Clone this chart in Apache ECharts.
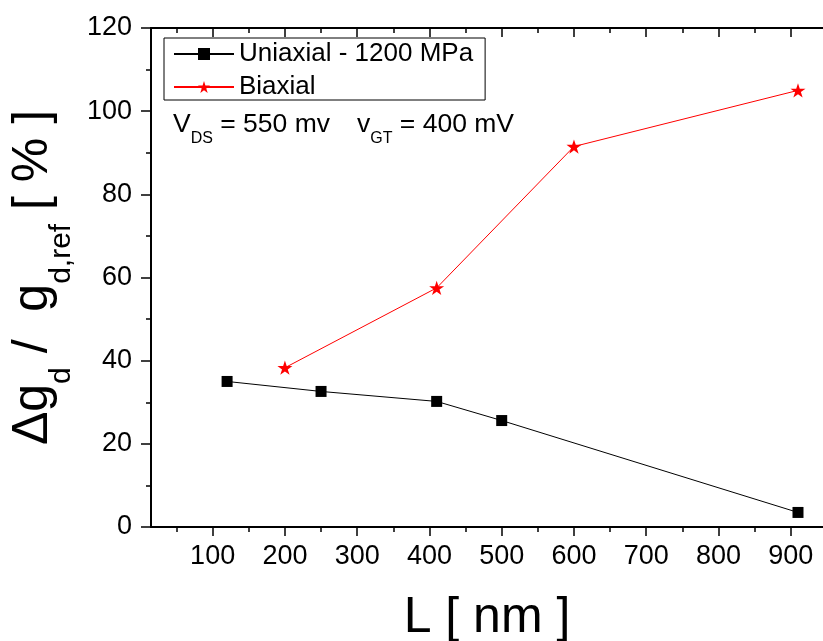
<!DOCTYPE html>
<html><head><meta charset="utf-8">
<script src="https://cdn.jsdelivr.net/npm/echarts@6/dist/echarts.min.js"></script>
<style>html,body{margin:0;padding:0;background:#fff}#c{width:823px;height:641px}</style>
</head><body><div id="c"></div>
<script>
const seriesNames = ['Uniaxial - 1200 MPa', 'Biaxial'];
const uniaxialL = [120, 250, 410, 500, 910];
const uniaxialVal = [35.0, 32.6, 30.2, 25.6, 3.5];
const biaxialL = [200, 410, 600, 910];
const biaxialVal = [38.3, 57.5, 91.5, 105.0];
const xMajorTicks = [100, 200, 300, 400, 500, 600, 700, 800, 900];
const xMinorTicks = [50, 150, 250, 350, 450, 550, 650, 750, 850];
const xRange = [14.7, 944.6];
const yRange = [0, 120];
const yInterval = 20;

const FONT = '"Liberation Sans", Arial, sans-serif';
const STAR = 'path://M100,0L122.45,69.1L195.1,69.1L136.3,111.8L158.8,180.9L100,138.2L41.2,180.9L63.7,111.8L4.9,69.1L77.55,69.1Z';
const axisCol = '#000';

function pairs(xs, ys) { return xs.map((x, i) => [x, ys[i]]); }

function xAxisDef(pos, ticks, len, inside, withLine, withLabels) {
  return {
    type: 'value', position: pos, min: xRange[0], max: xRange[1],
    axisLine: { show: withLine, onZero: false, lineStyle: { color: axisCol, width: 2 } },
    axisTick: { show: true, inside: inside, length: len, customValues: ticks, lineStyle: { color: axisCol, width: 1.5 } },
    axisLabel: withLabels ? { show: true, customValues: ticks, margin: 16, color: '#000', fontSize: 27, fontFamily: FONT } : { show: false },
    splitLine: { show: false }
  };
}

const subRich = (bigFs, subFs, subLH) => ({
  b: { fontSize: bigFs, lineHeight: bigFs, verticalAlign: 'top', fontFamily: FONT, fill: '#000' },
  s: { fontSize: subFs, lineHeight: subLH, verticalAlign: 'bottom', fontFamily: FONT, fill: '#000' }
});

const chart = echarts.init(document.getElementById('c'), null, { renderer: 'canvas' });
const option = {
  backgroundColor: '#fff',
  animation: false,
  textStyle: { fontFamily: FONT },
  grid: { left: 151, right: 0, top: 28, bottom: 114, containLabel: false, outerBoundsMode: 'none' },
  legend: {
    orient: 'vertical', left: 164, top: 38,
    data: seriesNames,
    itemWidth: 60, itemHeight: 15, itemGap: 7,
    padding: [3, 12, 0, 9],
    borderColor: '#000', borderWidth: 1,
    textStyle: { fontSize: 26, color: '#000', fontFamily: FONT }
  },
  xAxis: [
    Object.assign(xAxisDef('bottom', xMajorTicks, 9, false, true, true), {
      name: 'L [ nm ]', nameLocation: 'middle', nameGap: 66,
      nameTextStyle: { fontSize: 50, color: '#000', fontFamily: FONT }
    }),
    xAxisDef('bottom', xMinorTicks, 5, false, false, false),
    xAxisDef('top', xMajorTicks, 9, true, true, false),
    xAxisDef('top', xMinorTicks, 5, true, false, false)
  ],
  yAxis: {
    type: 'value', min: yRange[0], max: yRange[1], interval: yInterval,
    axisLine: { show: true, onZero: false, lineStyle: { color: axisCol, width: 2 } },
    axisTick: { show: true, inside: false, length: 10, lineStyle: { color: axisCol, width: 1.5 } },
    minorTick: { show: true, splitNumber: 2, length: 5, lineStyle: { color: axisCol, width: 1.5 } },
    axisLabel: { margin: 19, color: '#000', fontSize: 27, fontFamily: FONT },
    splitLine: { show: false }
  },
  graphic: [
    {
      type: 'text', x: 8.7, y: 277.5, rotation: Math.PI / 2,
      style: {
        x: 0, y: 0, align: 'center', verticalAlign: 'top',
        text: '{b|Δg}{s|d}{b| /  g}{s|d,ref}{b| [ % ]}',
        rich: subRich(50, 30, 68.5)
      }
    },
    {
      type: 'text', x: 173, y: 111.5,
      style: {
        x: 0, y: 0, align: 'left', verticalAlign: 'top',
        text: '{b|V}{s|DS}{b| = 550 mv}',
        rich: subRich(26.5, 16, 35)
      }
    },
    {
      type: 'text', x: 357, y: 111.5,
      style: {
        x: 0, y: 0, align: 'left', verticalAlign: 'top',
        text: '{b|v}{s|GT}{b| = 400 mV}',
        rich: subRich(26.5, 16, 35)
      }
    }
  ],
  series: [
    {
      name: seriesNames[0], type: 'line', xAxisIndex: 0,
      data: pairs(uniaxialL, uniaxialVal),
      symbol: 'rect', symbolSize: 11,
      lineStyle: { color: '#000', width: 1 },
      itemStyle: { color: '#000' }
    },
    {
      name: seriesNames[1], type: 'line', xAxisIndex: 0,
      data: pairs(biaxialL, biaxialVal),
      symbol: STAR, symbolSize: 15, symbolKeepAspect: true,
      lineStyle: { color: '#ff0000', width: 1 },
      itemStyle: { color: '#ff0000' }
    }
  ]
};
chart.setOption(option);
</script>
</body></html>
